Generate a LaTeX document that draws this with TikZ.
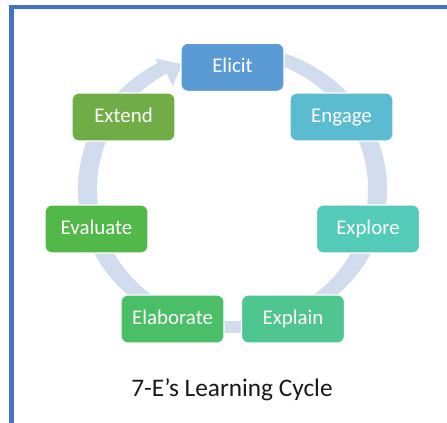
\documentclass[tikz,border=0pt]{standalone}
\usepackage{fontspec}
\setmainfont{Carlito}
\usetikzlibrary{calc}
\definecolor{framec}{RGB}{68,114,196}
\definecolor{ringc}{RGB}{209,220,238}
\definecolor{cElicit}{HTML}{5B9BD5}
\definecolor{cEngage}{HTML}{5BBCD1}
\definecolor{cExplore}{HTML}{54CBB9}
\definecolor{cExplain}{HTML}{4FC690}
\definecolor{cElaborate}{HTML}{4BBF68}
\definecolor{cEvaluate}{HTML}{52B84A}
\definecolor{cExtend}{HTML}{70AD47}
\begin{document}
\begin{tikzpicture}[x=0.02cm,y=0.02cm,
  stage/.style={rounded corners=0.14cm, draw=white, line width=0.6pt,
    minimum width=2.06cm, minimum height=0.96cm, inner sep=0pt, text=white,
    font=\fontsize{11.9}{14}\selectfont, text height=0.644em, text depth=0pt}]
\useasboundingbox (0,0) rectangle (447,423);
\draw[framec, line width=0.09cm] (447,416) -- (11.7,416) -- (11.7,0);
\coordinate (C) at (232.5,234);
\fill[ringc] ($(C)+(75:154.5 and 144)$)
  arc[start angle=75, end angle=-241, x radius=154.5, y radius=144]
  -- ($(C)+(119:159 and 149)$)
  -- ($(C)+(111:140.7 and 133.9)$)
  -- ($(C)+(119:123.5 and 117.5)$)
  -- ($(C)+(119:135.5 and 132)$)
  arc[start angle=-241, end angle=75, x radius=135.5, y radius=132]
  -- cycle;
\node[stage, fill=cElicit] (elicit) at (232.5,355.7) {Elicit};
\node[stage, fill=cEngage] (engage) at (341.5,306) {Engage};
\node[stage, fill=cExtend] (extend) at (123.5,306) {Extend};
\node[stage, fill=cEvaluate] (evaluate) at (96.5,194) {Evaluate};
\node[stage, fill=cExplore] (explore) at (368,194) {Explore};
\node[stage, fill=cElaborate] (elaborate) at (172.5,104) {Elaborate};
\node[stage, fill=cExplain] (explain) at (293,104) {Explain};
\node[anchor=base, font=\fontsize{14.4}{17}\selectfont, text=black!90] (title) at (232,26.3) {7-E’s Learning Cycle};
\end{tikzpicture}
\end{document}
